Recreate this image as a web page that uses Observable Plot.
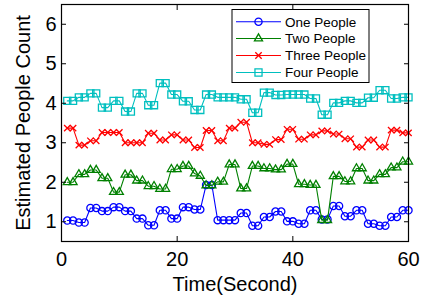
<!DOCTYPE html>
<html>
<head>
<meta charset="utf-8">
<script src="https://cdn.jsdelivr.net/npm/d3@7"></script>
<script src="https://cdn.jsdelivr.net/npm/@observablehq/plot@0.6"></script>
<style>
  html, body { margin: 0; padding: 0; background: #fff; }
  #chart svg { display: block; }
</style>
</head>
<body>
<div id="chart"></div>
<script>
// ---- data ----
const seriesNames = ["One People", "Two People", "Three People", "Four People"];
const seriesColors = ["#0000ff", "#008000", "#ff0000", "#00bfbf"];
const seriesSymbols = ["circle", "triangle", "times", "square"];

const timeSeconds = [1,2,3,4,5,6,7,8,9,10,11,12,13,14,15,16,17,18,19,20,
  21,22,23,24,25,26,27,28,29,30,31,32,33,34,35,36,37,38,39,40,
  41,42,43,44,45,46,47,48,49,50,51,52,53,54,55,56,57,58,59,60];

const onePeople = [1.03,1.03, 0.98,0.98, 1.35,1.35, 1.27,1.27, 1.37,1.37, 1.27,1.27, 1.08,1.08, 0.91,0.91, 1.29,1.29, 1.08,1.08,
  1.37,1.37, 1.31,1.31, 1.93,1.93, 1.04,1.04, 1.04,1.04, 1.22,1.22, 0.90,0.90, 1.12,1.12, 1.26,1.26, 1.01,1.01,
  0.95,0.95, 1.29,1.29, 1.06,1.06, 1.40,1.40, 1.14,1.14, 1.29,1.29, 0.95,0.95, 0.90,0.90, 1.12,1.12, 1.29,1.29];

const twoPeople = [2.00,2.00, 2.20,2.20, 2.31,2.31, 2.10,2.10, 1.75,1.75, 2.19,2.19, 2.04,2.04, 1.90,1.90, 1.83,1.83, 2.33,2.33,
  2.41,2.41, 2.22,2.16, 1.92,1.92, 2.01,2.01, 2.45,2.45, 1.84,1.84, 2.41,2.41, 2.35,2.35, 2.32,2.32, 2.46,2.46,
  1.95,1.95, 1.93,1.93, 1.04,1.04, 2.15,2.15, 2.02,2.02, 2.35,2.35, 2.04,2.04, 2.20,2.20, 2.37,2.37, 2.52,2.52];

const threePeople = [3.37,3.37, 2.94,2.94, 3.05,3.05, 3.26,3.26, 3.26,3.26, 3.00,3.00, 3.00,3.00, 3.24,3.24, 3.07,3.07, 3.20,3.20,
  3.07,3.07, 2.88,2.88, 3.31,3.31, 3.05,3.05, 3.37,3.37, 3.52,3.52, 3.00,3.00, 2.96,2.96, 3.08,3.08, 3.34,3.34,
  3.09,3.09, 3.20,3.20, 3.30,3.30, 3.22,3.22, 3.10,3.10, 2.89,2.89, 3.07,3.07, 2.89,2.89, 3.32,3.32, 3.25,3.25];

const fourPeople = [4.06,4.06, 4.15,4.15, 4.25,4.25, 3.89,3.89, 4.06,4.06, 3.79,3.79, 4.25,4.25, 3.95,3.95, 4.51,4.51, 4.22,4.22,
  4.05,4.05, 3.83,3.83, 4.22,4.22, 4.15,4.15, 4.15,4.15, 4.10,4.10, 3.76,3.76, 4.27,4.27, 4.21,4.21, 4.22,4.22,
  4.22,4.22, 4.12,4.12, 3.71,3.71, 4.01,4.01, 4.06,4.06, 4.01,4.01, 4.14,4.14, 4.33,4.33, 4.12,4.12, 4.15,4.15];

const xTicks = [0, 20, 40, 60];
const yTicks = [1, 2, 3, 4, 5, 6];
const xLabel = "Time(Second)";
const yLabel = "Estimated People Count";

// ---- build table ----
const seriesValues = [onePeople, twoPeople, threePeople, fourPeople];
const rows = [];
seriesNames.forEach((name, s) => {
  seriesValues[s].forEach((v, i) => rows.push({series: name, t: timeSeconds[i], v}));
});

const markerR = {"circle": 3.6, "triangle": 3.0, "times": 3.0, "square": 4.0};
const fontFamily = "'Liberation Sans', Arial, Helvetica, sans-serif";

// legend drawn as a render-function mark inside the plot frame
function legendMark() {
  const g = d3.create("svg:g").attr("font-family", fontFamily).attr("text-anchor", "start");
  const x0 = 232, y0 = 9.5, w = 137, h = 73;
  g.append("rect").attr("x", x0).attr("y", y0).attr("width", w).attr("height", h)
    .attr("fill", "white").attr("stroke", "black").attr("stroke-width", 1);
  const rowY = [21.7, 38.5, 55.5, 72.5];
  const symMap = {circle: d3.symbolCircle, triangle: d3.symbolTriangle, times: d3.symbolTimes, square: d3.symbolSquare};
  seriesNames.forEach((name, s) => {
    const y = rowY[s];
    g.append("line").attr("x1", x0 + 4).attr("x2", x0 + 49).attr("y1", y).attr("y2", y)
      .attr("stroke", seriesColors[s]).attr("stroke-width", 1.1);
    const r = markerR[seriesSymbols[s]];
    g.append("path")
      .attr("d", d3.symbol(symMap[seriesSymbols[s]], Math.PI * r * r)())
      .attr("transform", `translate(${x0 + 26.5},${y})`)
      .attr("fill", "none").attr("stroke", seriesColors[s]).attr("stroke-width", 1.3);
    g.append("text").attr("x", x0 + 53).attr("y", y).attr("dy", "0.36em")
      .attr("text-anchor", "start")
      .attr("font-size", 13.5).attr("fill", "black").text(name);
  });
  return g.node();
}

const seriesMarks = [];
seriesNames.forEach((name, s) => {
  const data = rows.filter(d => d.series === name);
  seriesMarks.push(Plot.line(data, {x: "t", y: "v", stroke: seriesColors[s], strokeWidth: 1.1}));
  seriesMarks.push(Plot.dot(data, {x: "t", y: "v", stroke: seriesColors[s], fill: "none",
    symbol: () => seriesSymbols[s], r: markerR[seriesSymbols[s]], strokeWidth: 1.3}));
});

const chart = Plot.plot({
  width: 441,
  height: 295,
  marginLeft: 61,
  marginRight: 33,
  marginTop: 4,
  marginBottom: 54,
  style: {fontFamily, fontSize: "20px", background: "white", color: "black", overflow: "visible"},
  x: {domain: [0, 60]},
  y: {domain: [0.5, 6.5]},
  symbol: {domain: seriesSymbols, range: seriesSymbols},
  marks: [
    ...seriesMarks,
    Plot.frame({stroke: "black", strokeWidth: 1.2}),
    // inward ticks on all four sides
    Plot.axisX(xTicks, {anchor: "bottom", tickSize: -5, tickFormat: () => "", label: null}),
    Plot.axisX(xTicks, {anchor: "top", tickSize: -5, tickFormat: () => "", label: null}),
    Plot.axisY(yTicks, {anchor: "left", tickSize: -5, tickFormat: () => "", label: null}),
    Plot.axisY(yTicks, {anchor: "right", tickSize: -5, tickFormat: () => "", label: null}),
    // tick labels + titles
    Plot.axisX(xTicks, {anchor: "bottom", tickSize: 0, tickPadding: 10, fontSize: 20,
      label: xLabel, labelAnchor: "center", labelArrow: "none", labelOffset: 49}),
    Plot.axisY(yTicks, {anchor: "left", tickSize: 0, tickPadding: 5, fontSize: 20,
      label: yLabel, labelAnchor: "center", labelArrow: "none", labelOffset: 46}),
    legendMark
  ]
});
document.getElementById("chart").appendChild(chart);
</script>
</body>
</html>
